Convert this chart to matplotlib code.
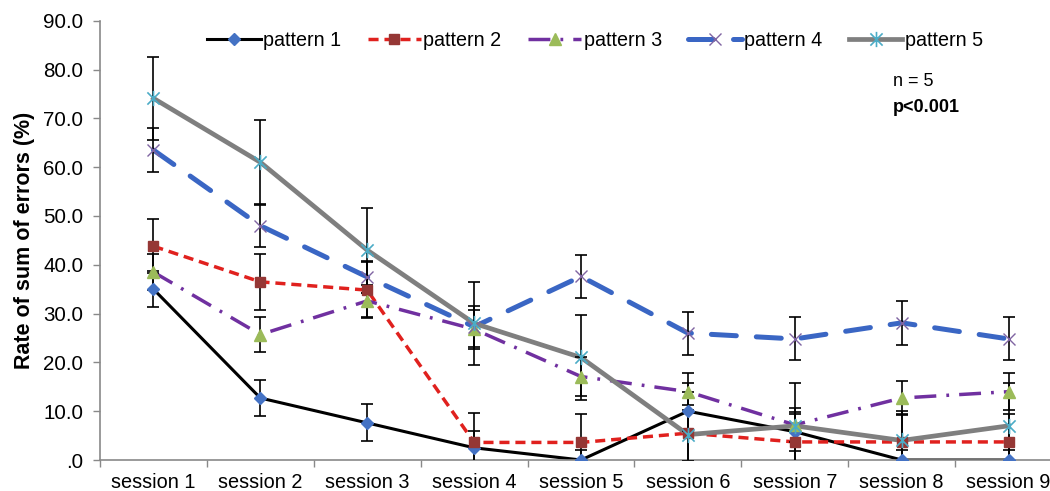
import matplotlib
matplotlib.use("Agg")
import matplotlib.pyplot as plt
from matplotlib.lines import Line2D
from matplotlib.path import Path
from matplotlib.ticker import FixedLocator, FuncFormatter

plt.rcParams['font.family'] = ['Liberation Sans', 'DejaVu Sans']

sessions = ["session 1", "session 2", "session 3", "session 4", "session 5",
            "session 6", "session 7", "session 8", "session 9"]
series_names = ["pattern 1", "pattern 2", "pattern 3", "pattern 4", "pattern 5"]

p1 = [35.0, 12.7, 7.6, 2.5, 0.0, 10.0, 5.8, 0.0, 0.0]
p1_err = [3.7, 3.7, 3.8, 3.5, 2.0, 4.0, 4.0, 2.0, 2.0]
p2 = [43.8, 36.5, 34.8, 3.6, 3.6, 5.5, 3.7, 3.7, 3.7]
p2_err = [5.5, 5.7, 5.7, 6.0, 5.8, 5.8, 5.8, 5.8, 5.8]
p3 = [38.5, 25.7, 32.6, 26.8, 17.1, 14.0, 7.2, 12.7, 14.0]
p3_err = [3.7, 3.5, 3.3, 4.0, 3.9, 3.8, 3.5, 3.5, 3.8]
p4 = [63.5, 48.0, 37.5, 27.3, 37.6, 26.0, 24.8, 28.1, 24.8]
p4_err = [4.5, 4.4, 3.2, 4.2, 4.4, 4.4, 4.4, 4.5, 4.4]
p5 = [74.1, 61.0, 43.0, 28.0, 21.0, 5.2, 7.0, 4.0, 7.0]
p5_err = [8.5, 8.7, 8.7, 8.5, 8.7, 10.5, 8.7, 6.0, 8.7]

values = [p1, p2, p3, p4, p5]
errors = [p1_err, p2_err, p3_err, p4_err, p5_err]

# Excel-like star marker: X plus vertical line
star = Path([(0, -1), (0, 1), (-0.8, -0.8), (0.8, 0.8), (-0.8, 0.8), (0.8, -0.8)],
            [Path.MOVETO, Path.LINETO, Path.MOVETO, Path.LINETO, Path.MOVETO, Path.LINETO])

styles = [
    dict(color='black', lw=2.2, ls='-', marker='D', ms=6.5, mfc='#4472C4', mec='#4472C4', mew=1.0),
    dict(color='#E0211E', lw=2.5, ls=(0, (2.9, 1.7)), marker='s', ms=7.5, mfc='#953735', mec='#953735', mew=1.0),
    dict(color='#7030A0', lw=2.5, ls=(0, (6.3, 2.9, 0.8, 2.9)), marker='^', ms=8, mfc='#9BBB59', mec='#9BBB59', mew=1.0),
    dict(color='#3A66C4', lw=3.6, ls=(0, (5.0, 4.0)), marker='x', ms=9, mfc='none', mec='#8064A2', mew=1.0),
    dict(color='#7F7F7F', lw=3.4, ls='-', marker=star, ms=11, mfc='none', mec='#4BACC6', mew=1.2),
]

fig = plt.figure(figsize=(10.5, 4.91), dpi=100)
ax = fig.add_axes([100 / 1050, 31 / 491, 962 / 1050, 439.3 / 491])

x = list(range(len(sessions)))
handles = []
for i, (vals, errs, st) in enumerate(zip(values, errors, styles)):
    capstyle = 'round' if i == 3 else 'butt'
    ax.plot(x, vals, color=st['color'], lw=st['lw'], ls=st['ls'], zorder=2 + i * 0.1,
            dash_capstyle=capstyle, solid_joinstyle='round')
    ax.errorbar(x, vals, yerr=errs, fmt='none', ecolor='black', elinewidth=1.2,
                capsize=4, capthick=1.2, zorder=3)
    ax.plot(x, vals, ls='none', marker=st['marker'], ms=st['ms'], mfc=st['mfc'],
            mec=st['mec'], mew=st['mew'], zorder=4 + i * 0.1)
    handles.append(Line2D([], [], color=st['color'], lw=st['lw'], ls=st['ls'],
                          marker=st['marker'], ms=st['ms'], mfc=st['mfc'],
                          mec=st['mec'], mew=st['mew'], dash_capstyle=capstyle))

ax.set_xlim(-0.5, len(sessions) - 0.5)
ax.set_ylim(0, 90)
ax.set_yticks([0, 10, 20, 30, 40, 50, 60, 70, 80, 90])
ax.yaxis.set_major_formatter(FuncFormatter(lambda v, p: ".0" if v == 0 else f"{v:.1f}"))
ax.set_xticks(x)
ax.set_xticklabels(sessions)
ax.xaxis.set_minor_locator(FixedLocator([i - 0.5 for i in range(len(sessions) + 1)]))
ax.tick_params(axis='x', which='major', length=0, pad=9, labelsize=14.3)
ax.tick_params(axis='x', which='minor', length=5, color='#898989', width=1)
ax.tick_params(axis='y', length=5, color='#898989', width=1, labelsize=14.8, pad=7)

for s in ['top', 'right']:
    ax.spines[s].set_visible(False)
for s in ['left', 'bottom']:
    ax.spines[s].set_color('#898989')
    ax.spines[s].set_linewidth(1.2)

ax.set_ylabel("Rate of sum of errors (%)", fontsize=15.5, fontweight='bold', labelpad=6)

fig.legend(handles, series_names, loc='center', bbox_to_anchor=(595 / 1050, 1 - 40 / 491),
           ncol=5, frameon=False, fontsize=14.2, handlelength=2.7, handletextpad=0.12,
           columnspacing=1.35)

fig.text(893 / 1050, 1 - 82 / 491, "n = 5", fontsize=13, va='center', ha='left')
fig.text(893 / 1050, 1 - 107 / 491, "p<0.001", fontsize=13, fontweight='bold', va='center', ha='left')

fig.savefig("out.png", dpi=100)
